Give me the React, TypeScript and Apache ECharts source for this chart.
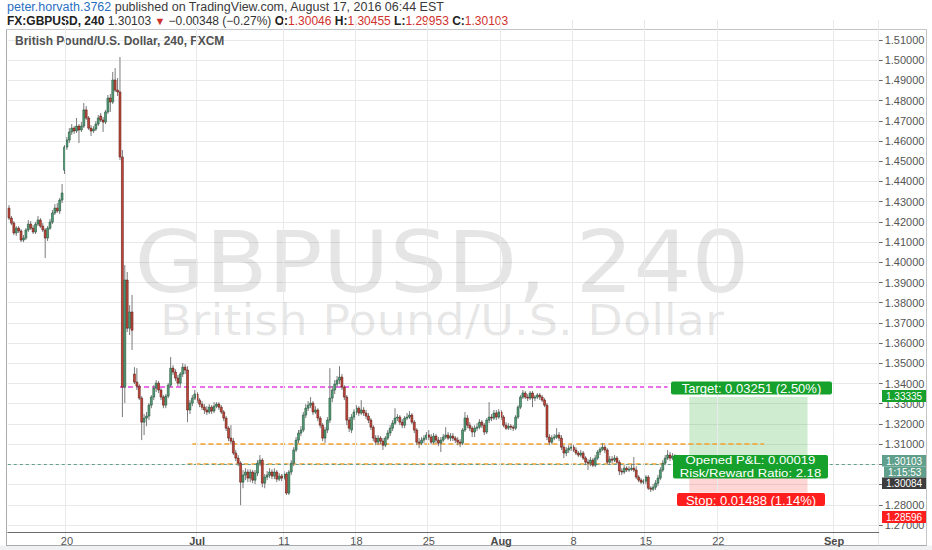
import React, { useEffect, useRef } from "react";
import * as echarts from "echarts";

// ---------- data ----------
// each row: [open, close, high, low] for one 4-hour bar, first bar = 2016-06-14 01:00 EST
const ohlc: number[][] = [
  [1.4268,1.4219,1.4283,1.4209],[1.4219,1.4194,1.4229,1.4184],[1.4194,1.4145,1.4204,1.4135],[1.4145,1.4169,1.4179,1.4130],
  [1.4169,1.4155,1.4179,1.4145],[1.4155,1.4110,1.4164,1.4100],[1.4110,1.4120,1.4135,1.4100],[1.4120,1.4160,1.4169,1.4110],
  [1.4160,1.4189,1.4209,1.4150],[1.4189,1.4169,1.4204,1.4160],[1.4169,1.4150,1.4184,1.4140],[1.4150,1.4189,1.4199,1.4140],
  [1.4189,1.4209,1.4229,1.4179],[1.4209,1.4179,1.4219,1.4169],[1.4179,1.4160,1.4194,1.4150],[1.4160,1.4120,1.4169,1.4021],
  [1.4120,1.4169,1.4179,1.4105],[1.4169,1.4199,1.4214,1.4160],[1.4199,1.4244,1.4259,1.4189],[1.4244,1.4268,1.4288,1.4234],
  [1.4268,1.4254,1.4293,1.4244],[1.4254,1.4308,1.4318,1.4239],[1.4308,1.4343,1.4387,1.4293],[1.4456,1.4570,1.4580,1.4437],
  [1.4570,1.4605,1.4620,1.4556],[1.4605,1.4645,1.4664,1.4590],[1.4645,1.4664,1.4684,1.4630],[1.4664,1.4650,1.4674,1.4635],
  [1.4650,1.4674,1.4714,1.4640],[1.4674,1.4655,1.4684,1.4590],[1.4655,1.4674,1.4694,1.4645],[1.4674,1.4754,1.4788,1.4664],
  [1.4754,1.4714,1.4773,1.4704],[1.4714,1.4664,1.4724,1.4655],[1.4664,1.4650,1.4679,1.4625],[1.4650,1.4659,1.4674,1.4640],
  [1.4659,1.4684,1.4699,1.4650],[1.4684,1.4714,1.4729,1.4674],[1.4724,1.4704,1.4739,1.4694],[1.4704,1.4694,1.4719,1.4645],
  [1.4694,1.4744,1.4754,1.4684],[1.4744,1.4813,1.4828,1.4734],[1.4813,1.4793,1.4833,1.4744],[1.4793,1.4902,1.4942,1.4783],
  [1.4902,1.4852,1.4961,1.4843],[1.4852,1.4843,1.4912,1.4823],[1.4843,1.4521,1.5016,1.4506],[1.4521,1.3382,1.4556,1.3234],
  [1.3382,1.3912,1.3986,1.3303],[1.3912,1.3674,1.3952,1.3655],[1.3674,1.3754,1.3788,1.3640],[1.3754,1.3664,1.3838,1.3566],
  [1.3447,1.3407,1.3481,1.3397],[1.3407,1.3387,1.3476,1.3368],[1.3387,1.3328,1.3397,1.3318],[1.3328,1.3209,1.3338,1.3120],
  [1.3209,1.3229,1.3249,1.3145],[1.3229,1.3239,1.3259,1.3189],[1.3239,1.3293,1.3303,1.3219],[1.3293,1.3333,1.3343,1.3278],
  [1.3333,1.3377,1.3392,1.3318],[1.3377,1.3402,1.3417,1.3358],[1.3402,1.3368,1.3412,1.3353],[1.3368,1.3333,1.3377,1.3318],
  [1.3333,1.3293,1.3343,1.3278],[1.3293,1.3338,1.3348,1.3278],[1.3338,1.3392,1.3402,1.3328],[1.3392,1.3476,1.3531,1.3382],
  [1.3476,1.3457,1.3491,1.3442],[1.3457,1.3427,1.3471,1.3412],[1.3427,1.3402,1.3442,1.3387],[1.3402,1.3447,1.3457,1.3387],
  [1.3447,1.3481,1.3501,1.3432],[1.3481,1.3467,1.3496,1.3447],[1.3467,1.3269,1.3486,1.3209],[1.3269,1.3303,1.3318,1.3249],
  [1.3303,1.3328,1.3343,1.3288],[1.3328,1.3348,1.3368,1.3318],[1.3348,1.3318,1.3358,1.3303],[1.3318,1.3298,1.3328,1.3283],
  [1.3298,1.3283,1.3313,1.3269],[1.3283,1.3269,1.3298,1.3249],[1.3269,1.3259,1.3288,1.3244],[1.3259,1.3283,1.3298,1.3249],
  [1.3283,1.3264,1.3293,1.3249],[1.3264,1.3288,1.3308,1.3254],[1.3288,1.3298,1.3308,1.3278],[1.3298,1.3283,1.3308,1.3269],
  [1.3283,1.3259,1.3293,1.3249],[1.3259,1.3229,1.3269,1.3214],[1.3229,1.3179,1.3239,1.3165],[1.3179,1.3130,1.3189,1.3115],
  [1.3130,1.3115,1.3194,1.3100],[1.3115,1.3056,1.3130,1.3046],[1.3056,1.3031,1.3071,1.3016],[1.3031,1.3006,1.3046,1.2991],
  [1.3006,1.2912,1.3016,1.2798],[1.2912,1.2947,1.2972,1.2882],[1.2947,1.2962,1.2981,1.2922],[1.2962,1.2932,1.2976,1.2912],
  [1.2932,1.2962,1.2976,1.2912],[1.2962,1.2922,1.2972,1.2907],[1.2922,1.2957,1.2972,1.2902],[1.2957,1.3006,1.3021,1.2942],
  [1.3006,1.3021,1.3046,1.2991],[1.3021,1.2907,1.3031,1.2887],[1.2907,1.2937,1.2952,1.2882],[1.2937,1.2947,1.2967,1.2922],
  [1.2947,1.2962,1.2981,1.2932],[1.2962,1.2942,1.2976,1.2927],[1.2942,1.2962,1.2981,1.2927],[1.2962,1.2927,1.2972,1.2912],
  [1.2927,1.2942,1.2957,1.2917],[1.2942,1.2932,1.2952,1.2917],[1.2932,1.2952,1.2967,1.2922],[1.2952,1.2858,1.2962,1.2848],
  [1.2858,1.2962,1.2972,1.2848],[1.2962,1.3006,1.3021,1.2947],[1.3006,1.3071,1.3085,1.2991],[1.3071,1.3120,1.3135,1.3061],
  [1.3120,1.3155,1.3170,1.3105],[1.3155,1.3170,1.3189,1.3140],[1.3170,1.3244,1.3259,1.3160],[1.3244,1.3278,1.3298,1.3229],
  [1.3278,1.3293,1.3313,1.3264],[1.3293,1.3303,1.3333,1.3278],[1.3303,1.3259,1.3313,1.3244],[1.3259,1.3269,1.3288,1.3249],
  [1.3269,1.3229,1.3278,1.3214],[1.3229,1.3194,1.3239,1.3179],[1.3194,1.3130,1.3204,1.3115],[1.3130,1.3170,1.3184,1.3105],
  [1.3170,1.3219,1.3234,1.3155],[1.3219,1.3328,1.3476,1.3204],[1.3328,1.3368,1.3387,1.3308],[1.3368,1.3397,1.3417,1.3348],
  [1.3397,1.3417,1.3437,1.3382],[1.3417,1.3432,1.3486,1.3397],[1.3432,1.3382,1.3447,1.3368],[1.3382,1.3333,1.3392,1.3318],
  [1.3333,1.3219,1.3343,1.3194],[1.3219,1.3179,1.3234,1.3160],[1.3170,1.3234,1.3249,1.3155],[1.3234,1.3259,1.3273,1.3219],
  [1.3259,1.3278,1.3293,1.3244],[1.3278,1.3254,1.3288,1.3239],[1.3254,1.3269,1.3318,1.3244],[1.3269,1.3254,1.3283,1.3239],
  [1.3254,1.3239,1.3269,1.3224],[1.3239,1.3219,1.3254,1.3204],[1.3219,1.3184,1.3229,1.3170],[1.3184,1.3130,1.3194,1.3115],
  [1.3130,1.3110,1.3145,1.3095],[1.3110,1.3130,1.3145,1.3095],[1.3130,1.3115,1.3140,1.3100],[1.3115,1.3095,1.3130,1.3071],
  [1.3095,1.3130,1.3140,1.3085],[1.3130,1.3155,1.3170,1.3120],[1.3155,1.3179,1.3194,1.3140],[1.3179,1.3204,1.3219,1.3165],
  [1.3204,1.3229,1.3278,1.3194],[1.3229,1.3234,1.3249,1.3214],[1.3234,1.3209,1.3244,1.3194],[1.3209,1.3194,1.3224,1.3179],
  [1.3194,1.3229,1.3239,1.3179],[1.3229,1.3234,1.3254,1.3219],[1.3234,1.3244,1.3264,1.3224],[1.3244,1.3209,1.3254,1.3199],
  [1.3209,1.3170,1.3219,1.3155],[1.3170,1.3110,1.3179,1.3095],[1.3110,1.3105,1.3130,1.3080],[1.3105,1.3120,1.3135,1.3095],
  [1.3120,1.3130,1.3145,1.3105],[1.3130,1.3145,1.3160,1.3120],[1.3145,1.3135,1.3170,1.3120],[1.3135,1.3110,1.3150,1.3100],
  [1.3110,1.3140,1.3155,1.3100],[1.3140,1.3120,1.3150,1.3105],[1.3120,1.3105,1.3135,1.3090],[1.3105,1.3120,1.3135,1.3061],
  [1.3120,1.3135,1.3150,1.3110],[1.3135,1.3145,1.3184,1.3125],[1.3145,1.3130,1.3160,1.3120],[1.3130,1.3140,1.3155,1.3115],
  [1.3140,1.3130,1.3155,1.3115],[1.3130,1.3120,1.3140,1.3105],[1.3120,1.3110,1.3135,1.3095],[1.3110,1.3105,1.3125,1.3085],
  [1.3105,1.3170,1.3179,1.3095],[1.3170,1.3229,1.3259,1.3160],[1.3229,1.3194,1.3244,1.3179],[1.3194,1.3179,1.3209,1.3165],
  [1.3179,1.3160,1.3189,1.3135],[1.3160,1.3179,1.3194,1.3135],[1.3179,1.3184,1.3204,1.3165],[1.3184,1.3209,1.3224,1.3174],
  [1.3209,1.3194,1.3219,1.3179],[1.3194,1.3160,1.3204,1.3145],[1.3160,1.3219,1.3229,1.3150],[1.3219,1.3234,1.3308,1.3204],
  [1.3234,1.3229,1.3249,1.3214],[1.3229,1.3254,1.3269,1.3219],[1.3254,1.3234,1.3269,1.3219],[1.3234,1.3259,1.3273,1.3224],
  [1.3259,1.3234,1.3269,1.3219],[1.3234,1.3194,1.3244,1.3184],[1.3194,1.3179,1.3209,1.3170],[1.3179,1.3189,1.3204,1.3170],
  [1.3189,1.3184,1.3199,1.3170],[1.3184,1.3179,1.3194,1.3165],[1.3179,1.3234,1.3244,1.3170],[1.3234,1.3283,1.3293,1.3224],
  [1.3283,1.3333,1.3343,1.3273],[1.3333,1.3353,1.3368,1.3323],[1.3353,1.3333,1.3363,1.3323],[1.3333,1.3328,1.3348,1.3313],
  [1.3328,1.3353,1.3363,1.3318],[1.3353,1.3328,1.3363,1.3283],[1.3328,1.3333,1.3343,1.3313],[1.3333,1.3343,1.3353,1.3323],
  [1.3343,1.3333,1.3353,1.3318],[1.3333,1.3318,1.3343,1.3308],[1.3318,1.3293,1.3328,1.3283],[1.3293,1.3135,1.3303,1.3120],
  [1.3135,1.3110,1.3150,1.3095],[1.3110,1.3130,1.3145,1.3100],[1.3130,1.3135,1.3150,1.3120],[1.3135,1.3145,1.3179,1.3125],
  [1.3145,1.3130,1.3160,1.3115],[1.3130,1.3085,1.3145,1.3071],[1.3085,1.3056,1.3095,1.3031],[1.3056,1.3071,1.3085,1.3041],
  [1.3071,1.3080,1.3095,1.3056],[1.3080,1.3085,1.3100,1.3066],[1.3085,1.3071,1.3095,1.3061],[1.3071,1.3056,1.3085,1.3046],
  [1.3056,1.3046,1.3066,1.3036],[1.3046,1.3056,1.3071,1.3036],[1.3056,1.3031,1.3066,1.3021],[1.3031,1.3011,1.3041,1.2996],
  [1.3011,1.3006,1.3026,1.2972],[1.3006,1.3021,1.3036,1.2991],[1.3021,1.2996,1.3031,1.2986],[1.2996,1.3031,1.3046,1.2986],
  [1.3031,1.3061,1.3071,1.3021],[1.3061,1.3075,1.3085,1.3046],[1.3075,1.3085,1.3105,1.3066],[1.3085,1.3071,1.3095,1.3056],
  [1.3071,1.3011,1.3080,1.3001],[1.3011,1.3026,1.3041,1.2996],[1.3026,1.3021,1.3041,1.3006],[1.3021,1.3031,1.3046,1.3011],
  [1.3031,1.3011,1.3041,1.3001],[1.3011,1.2967,1.3021,1.2947],[1.2967,1.2962,1.2981,1.2947],[1.2962,1.2981,1.2996,1.2952],
  [1.2981,1.2972,1.2991,1.2962],[1.2972,1.2976,1.2991,1.2962],[1.2976,1.2981,1.3001,1.2967],[1.2981,1.2972,1.3036,1.2962],
  [1.2972,1.2937,1.2991,1.2927],[1.2937,1.2922,1.2947,1.2912],[1.2922,1.2912,1.2932,1.2902],[1.2912,1.2917,1.2927,1.2902],
  [1.2917,1.2937,1.2947,1.2902],[1.2937,1.2882,1.2947,1.2873],[1.2882,1.2877,1.2892,1.2863],[1.2877,1.2887,1.2902,1.2868],
  [1.2887,1.2907,1.2922,1.2873],[1.2907,1.2932,1.2947,1.2892],[1.2932,1.2972,1.2986,1.2922],[1.2972,1.3006,1.3021,1.2962],
  [1.3006,1.3031,1.3046,1.2996],[1.3031,1.3046,1.3071,1.3021],[1.3046,1.3031,1.3061,1.3016],[1.3031,1.3041,1.3056,1.3021],
  [1.3041,1.3005,1.3051,1.3001],[1.30046,1.30103,1.30455,1.29953],
];

const firstBar = Date.UTC(2016, 5, 14, 1); // 2016-06-14 01:00 (EST treated as UTC)
const totalSlots = 361;

const tickDates = ["2016-06-20","2016-07-01","2016-07-11","2016-07-18","2016-07-25","2016-08-01","2016-08-08","2016-08-15","2016-08-22","2016-09-01"];
const tickTexts = ["20","Jul","11","18","25","Aug","8","15","22","Sep"];
const monthTicks = ["Jul","Aug","Sep"];

const yTickMin = 1.27;
const yTickMax = 1.51;
const yTicksHiddenByTags = [1.29, 1.30];

const lastPrice = 1.30103;
const entryPrice = 1.30084;
const targetPrice = 1.33335;
const stopPrice = 1.28596;
const magentaLevel = 1.3382;
const orangeUpperLevel = 1.31;
const orangeLowerLevel = 1.3003;
const magentaSpan = [46, 273];
const orangeUpperSpan = [76, 313];
const orangeLowerSpan = [74, 273];
const positionSpan = [282, 331];

const headerLine1 = ["peter.horvath.3762", " published on TradingView.com, August 17, 2016 06:44 EST"];
const symbolTitle = "British Pound/U.S. Dollar, 240, FXCM";
const watermarkMain = "GBPUSD, 240";
const watermarkSub = "British Pound/U.S. Dollar";
const targetText = "Target: 0.03251 (2.50%)";
const pnlText = ["Opened P&L: 0.00019", "Risk/Reward Ratio: 2.18"];
const stopText = "Stop: 0.01488 (1.14%)";
const countdownText = "1:15:53";

// ---------- helpers ----------
const pad = (n: number) => (n < 10 ? "0" + n : "" + n);
function buildCategories(): string[] {
  const out: string[] = [];
  let t = firstBar;
  while (out.length < totalSlots) {
    const d = new Date(t);
    const wd = d.getUTCDay();
    const h = d.getUTCHours();
    const closed = wd === 6 || (wd === 5 && h >= 17) || (wd === 0 && h < 17);
    if (!closed) {
      out.push(`${d.getUTCFullYear()}-${pad(d.getUTCMonth() + 1)}-${pad(d.getUTCDate())} ${pad(h)}:00`);
    }
    t += 4 * 3600 * 1000;
  }
  return out;
}

const FONT = '"Liberation Sans", Arial, Helvetica, sans-serif';

export default function App() {
  const ref = useRef<HTMLDivElement>(null);
  useEffect(() => {
    document.body.style.margin = "0";
    const el = ref.current!;
    const chart = echarts.init(el, null, { renderer: "svg" });
    const cats = buildCategories();
    const tickIdx = new Map<number, string>();
    tickDates.forEach((d, k) => {
      const idx = cats.indexOf(d + " 01:00");
      if (idx >= 0) tickIdx.set(idx, tickTexts[k]);
    });
    const data = ohlc.map((r, i) => [i, r[0], r[1], r[2], r[3]]);

    const renderItem = (params: any, api: any) => {
      const i = api.value(0);
      const o = api.value(1), c = api.value(2), h = api.value(3), l = api.value(4);
      const pO = api.coord([i, o]);
      const pC = api.coord([i, c]);
      const pH = api.coord([i, h]);
      const pL = api.coord([i, l]);
      const x = pO[0];
      const up = c >= o;
      const top = Math.min(pO[1], pC[1]);
      const bot = Math.max(pO[1], pC[1]);
      const bw = 1.9;
      return {
        type: "group",
        children: [
          { type: "line", shape: { x1: x, y1: pH[1], x2: x, y2: pL[1] }, style: { stroke: "#7b7b7d", lineWidth: 1 } },
          {
            type: "rect",
            shape: { x: x - bw / 2, y: top, width: bw, height: Math.max(bot - top, 0.8) },
            style: { fill: up ? "#569e7a" : "#c8483a", stroke: up ? "#225437" : "#5b1a13", lineWidth: 0.6 },
          },
        ],
      };
    };

    const labelBox = (x: number, y: number, w: number, h: number, fill: string, text: string) => [
      { type: "rect", z: 70, shape: { x, y, width: w, height: h, r: 2 }, style: { fill } },
      {
        type: "text", z: 71, x: x + w / 2, y: y + h / 2 + 0.5,
        style: { text, fill: "#ffffff", font: `13px ${FONT}`, textAlign: "center", textVerticalAlign: "middle" },
      },
    ];
    const axisBox = (y: number, h: number, fill: string, text: string, x = 882) => [
      { type: "rect", z: 70, shape: { x, y, width: 926 - x, height: h }, style: { fill } },
      { type: "text", z: 71, x: x + 4, y: y + h / 2 + 0.5, style: { text, fill: "#ffffff", font: `10px ${FONT}`, textAlign: "left", textVerticalAlign: "middle" } },
    ];

    const option: any = {
      animation: false,
      backgroundColor: "#ffffff",
      grid: { left: 7.8, top: 19.8, width: 870.9, height: 525.4, containLabel: false },
      xAxis: {
        type: "category",
        data: cats,
        boundaryGap: true,
        offset: -13.2,
        z: 60,
        axisLine: { show: true, lineStyle: { color: "#6b6b6b", width: 1 } },
        axisTick: { show: false },
        axisLabel: {
          interval: (i: number) => tickIdx.has(i),
          formatter: (_v: string, i: number) => {
            const t = tickIdx.get(i) || "";
            return monthTicks.includes(t) ? `{m|${t}}` : `{d|${t}}`;
          },
          margin: 3,
          rich: {
            m: { fontWeight: "bold", color: "#4a4a4a", fontSize: 11, fontFamily: FONT },
            d: { color: "#555555", fontSize: 11, fontFamily: FONT },
          },
        },
        splitLine: { show: true, interval: (i: number) => tickIdx.has(i), lineStyle: { color: "#e8e9eb", width: 1 } },
      },
      yAxis: {
        type: "value",
        position: "right",
        min: 1.26,
        max: 1.52,
        interval: 0.01,
        axisLine: { show: true, lineStyle: { color: "#6b6b6b" } },
        axisTick: { show: true, length: 4, lineStyle: { color: "#6b6b6b" } },
        axisLabel: {
          margin: 6,
          color: "#555555",
          fontSize: 11,
          fontFamily: FONT,
          formatter: (v: number) => {
            if (v < yTickMin - 0.001 || v > yTickMax + 0.001) return "";
            if (yTicksHiddenByTags.some((t) => Math.abs(t - v) < 0.0005)) return "";
            return v.toFixed(5);
          },
        },
        splitLine: { show: true, lineStyle: { color: "#e8e9eb", width: 1 } },
      },
      series: [
        {
          type: "custom",
          renderItem,
          data,
          dimensions: ["i", "open", "close", "high", "low"],
          encode: { x: 0, y: [1, 2, 3, 4] },
          z: 5,
          markArea: {
            silent: true,
            data: [
              [{ coord: [positionSpan[0], targetPrice], itemStyle: { color: "rgba(40,170,40,0.22)" } }, { coord: [positionSpan[1], entryPrice] }],
              [{ coord: [positionSpan[0], entryPrice], itemStyle: { color: "rgba(255,50,50,0.2)" } }, { coord: [positionSpan[1], stopPrice] }],
            ],
          },
          markLine: {
            silent: true,
            symbol: ["none", "none"],
            label: { show: false },
            data: [
              [{ coord: [magentaSpan[0], magentaLevel], lineStyle: { color: "#e23fe0", type: [5, 3], width: 1.5 } }, { coord: [magentaSpan[1], magentaLevel] }],
              [{ coord: [orangeUpperSpan[0], orangeUpperLevel], lineStyle: { color: "#f2a12e", type: [5, 3], width: 1.5 } }, { coord: [orangeUpperSpan[1], orangeUpperLevel] }],
              [{ coord: [orangeLowerSpan[0], orangeLowerLevel], lineStyle: { color: "#f2a12e", type: [5, 3], width: 1.5 } }, { coord: [orangeLowerSpan[1], orangeLowerLevel] }],
              { yAxis: lastPrice, lineStyle: { color: "#5f9f8b", type: [3, 3], width: 1 } },
            ],
          },
        },
      ],
      graphic: [
        // watermark
        {
          type: "text", z: 1, x: 442, y: 262, scaleX: 1.06, silent: true,
          style: { text: watermarkMain, fill: "rgba(0,0,0,0.10)", font: `86px "DejaVu Sans", ${FONT}`, textAlign: "center", textVerticalAlign: "middle" },
        },
        {
          type: "text", z: 1, x: 442, y: 320, scaleX: 1.1, silent: true,
          style: { text: watermarkSub, fill: "rgba(0,0,0,0.10)", font: `42px "DejaVu Sans", ${FONT}`, textAlign: "center", textVerticalAlign: "middle" },
        },
        // covers outside the pane
        { type: "rect", z: 50, shape: { x: 0, y: 0, width: 932, height: 29.5 }, style: { fill: "#ffffff" } },
        { type: "rect", z: 50, shape: { x: 7, y: 532.5, width: 925, height: 13 }, style: { fill: "#ffffff" } },
        { type: "rect", z: 50, shape: { x: 0, y: 545.5, width: 932, height: 5 }, style: { fill: "#f0f1f3" } },
        // frame
        { type: "line", z: 55, shape: { x1: 6.5, y1: 29.5, x2: 6.5, y2: 545.5 }, style: { stroke: "#a9abae", lineWidth: 1 } },
        { type: "line", z: 55, shape: { x1: 6, y1: 29.5, x2: 927, y2: 29.5 }, style: { stroke: "#c3c5c8", lineWidth: 1 } },
        { type: "line", z: 55, shape: { x1: 6, y1: 545.5, x2: 927, y2: 545.5 }, style: { stroke: "#a9abae", lineWidth: 1 } },
        { type: "line", z: 55, shape: { x1: 926.5, y1: 29.5, x2: 926.5, y2: 545.5 }, style: { stroke: "#c3c5c8", lineWidth: 1 } },
        // header
        {
          type: "text", z: 60, x: 7, y: 7,
          style: {
            text: `{a|${headerLine1[0]}}{b|${headerLine1[1]}}`,
            textVerticalAlign: "middle", textAlign: "left",
            rich: { a: { fill: "#2b6fc2", font: `12.5px ${FONT}` }, b: { fill: "#3a3a3a", font: `12.5px ${FONT}` } },
          },
        },
        {
          type: "text", z: 60, x: 7, y: 21,
          style: {
            text: "{b|FX:GBPUSD, 240}{n| 1.30103 }{t|▼}{n| −0.00348 (−0.27%) }{b|O:}{r|1.30046}{b| H:}{r|1.30455}{b| L:}{r|1.29953}{b| C:}{r|1.30103}",
            textVerticalAlign: "middle", textAlign: "left",
            rich: {
              b: { fill: "#222222", font: `bold 12px ${FONT}` },
              n: { fill: "#333333", font: `12px ${FONT}` },
              r: { fill: "#d0312d", font: `12px ${FONT}` },
              t: { fill: "#d0312d", font: `11px ${FONT}` },
            },
          },
        },
        // symbol title inside pane
        {
          type: "text", z: 60, x: 15, y: 41,
          style: { text: symbolTitle, fill: "#525252", font: `bold 12px ${FONT}`, textAlign: "left", textVerticalAlign: "middle" },
        },
        // position labels
        ...labelBox(671, 381.5, 161, 13, "#15a12c", targetText),
        { type: "rect", z: 70, shape: { x: 673, y: 455, width: 155, height: 23.5, r: 2 }, style: { fill: "#15a12c" } },
        {
          type: "text", z: 71, x: 750.5, y: 460.8, scaleX: 1.25,
          style: { text: pnlText[0], fill: "#ffffff", font: `10.5px ${FONT}`, textAlign: "center", textVerticalAlign: "middle" },
        },
        {
          type: "text", z: 71, x: 750.5, y: 473, scaleX: 1.25,
          style: { text: pnlText[1], fill: "#ffffff", font: `10.5px ${FONT}`, textAlign: "center", textVerticalAlign: "middle" },
        },
        ...labelBox(677, 493, 148, 13, "#ff1e1e", stopText),
        // price-axis labels
        ...axisBox(390, 12, "#15a12c", targetPrice.toFixed(5)),
        ...axisBox(455, 11.5, "#5f9f8b", lastPrice.toFixed(5)),
        ...axisBox(466.5, 11, "#5f9f8b", countdownText, 884),
        ...axisBox(477.5, 11.5, "#3d3d3d", entryPrice.toFixed(5)),
        ...axisBox(511, 12, "#ff1e1e", stopPrice.toFixed(5)),
      ],
    };
    chart.setOption(option);
    return () => chart.dispose();
  }, []);
  return <div ref={ref} style={{ width: 932, height: 550, position: "absolute", left: 0, top: 0 }} />;
}
